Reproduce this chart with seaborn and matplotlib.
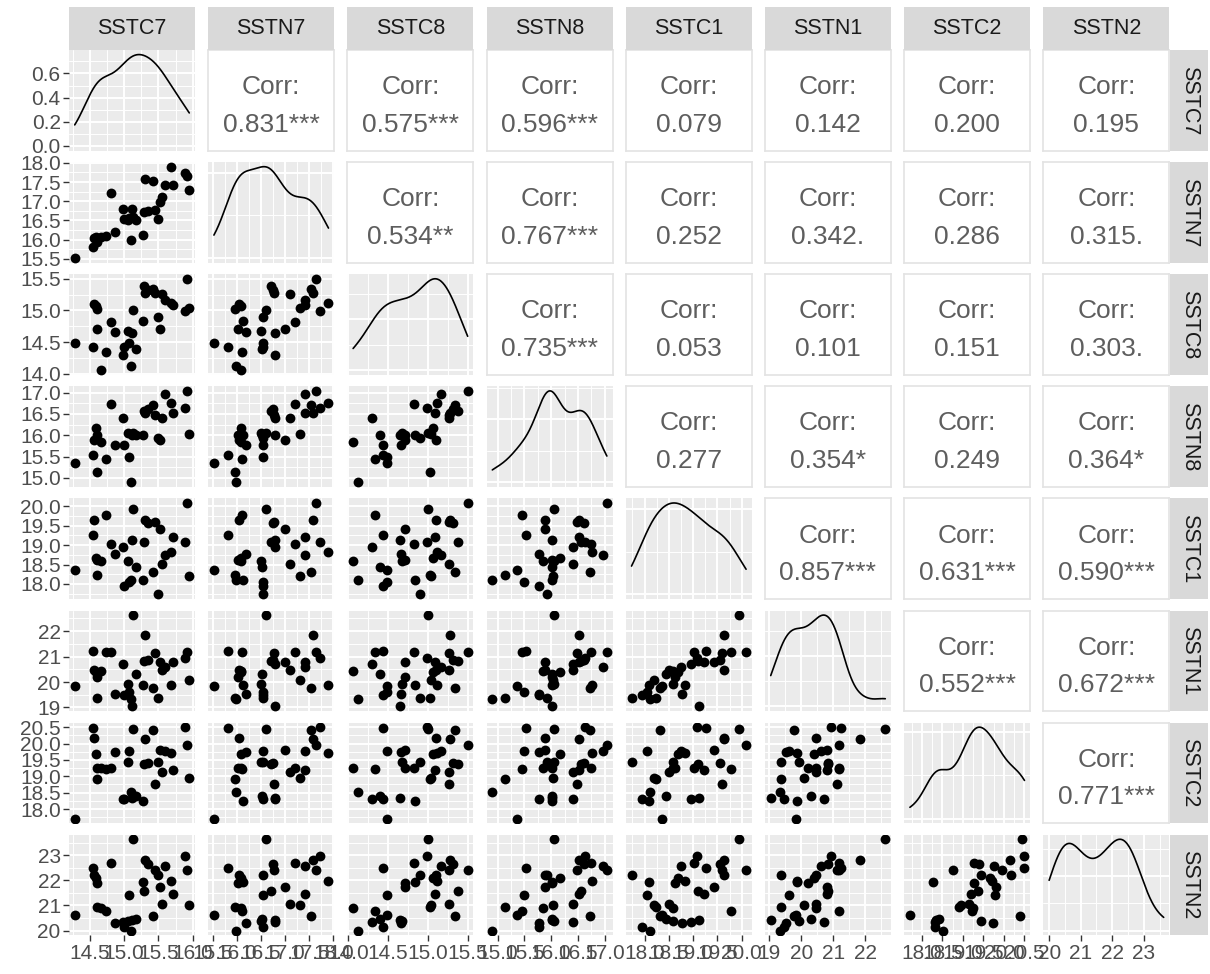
import numpy as np
import pandas as pd
import matplotlib
matplotlib.use("Agg")
import matplotlib.pyplot as plt
import seaborn as sns
from matplotlib.ticker import FixedLocator, AutoLocator, AutoMinorLocator

# ---- data: sea-surface temperature series ----
variables = ["SSTC7", "SSTN7", "SSTC8", "SSTN8", "SSTC1", "SSTN1", "SSTC2", "SSTN2"]

SSTC7 = [14.28, 14.55, 14.56, 14.59, 14.60, 14.61, 14.66, 14.74, 14.81, 14.87, 14.98,
         15.00, 15.05, 15.10, 15.12, 15.18, 15.07, 15.13, 15.28, 15.29, 15.31, 15.35,
         15.42, 15.45, 15.50, 15.52, 15.55, 15.60, 15.69, 15.72, 15.89, 15.92, 15.95]
SSTN7 = [15.52, 15.81, 16.05, 16.08, 16.01, 15.95, 16.08, 16.10, 17.21, 16.19, 16.79,
         16.54, 16.50, 15.98, 16.79, 16.52, 16.55, 16.60, 16.13, 16.71, 17.57, 16.75,
         17.53, 16.77, 16.54, 16.99, 17.10, 17.42, 17.90, 17.42, 17.73, 17.65, 17.30]
SSTC8 = [14.49, 14.43, 15.10, 15.07, 14.71, 15.03, 14.06, 14.34, 14.82, 14.66, 14.30,
         14.43, 14.68, 14.12, 14.65, 14.40, 14.49, 15.00, 14.84, 15.38, 15.28, 15.32,
         15.34, 15.27, 14.90, 14.71, 15.26, 15.16, 15.12, 15.09, 14.99, 15.50, 15.04]
SSTN8 = [15.36, 15.53, 15.89, 16.17, 16.01, 15.13, 15.85, 15.45, 16.74, 15.77, 16.40,
         15.77, 16.05, 14.90, 16.01, 16.01, 15.49, 16.05, 16.01, 16.56, 16.52, 16.62,
         16.72, 16.48, 15.93, 15.89, 16.40, 16.96, 16.76, 16.52, 16.64, 17.04, 16.03]
SSTC1 = [18.36, 19.27, 19.64, 18.68, 18.62, 18.24, 18.58, 19.78, 19.02, 18.76, 18.95,
         17.94, 18.58, 18.11, 19.13, 18.44, 18.04, 19.94, 18.09, 19.09, 19.64, 19.56,
         18.31, 19.60, 17.73, 19.42, 18.51, 18.74, 18.83, 19.22, 19.07, 20.09, 18.20]
SSTN1 = [19.84, 21.23, 20.47, 20.40, 20.20, 19.37, 20.45, 21.17, 21.17, 19.53, 20.71,
         19.47, 19.93, 19.33, 19.04, 20.31, 19.60, 22.63, 19.87, 20.83, 21.84, 20.85,
         19.76, 21.13, 19.37, 20.80, 20.47, 20.60, 19.87, 20.80, 20.93, 21.17, 20.07]
SSTC2 = [17.71, 20.48, 20.17, 19.67, 19.26, 18.91, 19.24, 19.22, 19.26, 19.74, 18.31,
         18.31, 19.45, 18.52, 18.35, 18.41, 19.78, 20.43, 18.26, 19.36, 20.15, 19.40,
         20.40, 18.77, 19.45, 19.81, 19.14, 19.76, 19.70, 19.19, 20.50, 19.96, 18.95]
SSTN2 = [20.64, 22.49, 22.22, 22.08, 21.88, 20.95, 20.88, 20.78, 22.67, 20.30, 20.33,
         20.16, 20.37, 20.00, 20.44, 20.47, 21.42, 23.63, 21.95, 21.58, 22.79, 22.63,
         20.58, 22.42, 22.22, 21.74, 21.05, 22.56, 21.99, 21.47, 22.95, 22.42, 21.03]

# Pearson correlations and significance marks, upper triangle, row by row
corr_values = [0.831, 0.575, 0.596, 0.079, 0.142, 0.200, 0.195,
               0.534, 0.767, 0.252, 0.342, 0.286, 0.315,
               0.735, 0.053, 0.101, 0.151, 0.303,
               0.277, 0.354, 0.249, 0.364,
               0.857, 0.631, 0.590,
               0.552, 0.672,
               0.771]
corr_marks = ["***", "***", "***", "", "", "", "",
              "**", "***", "", ".", "", ".",
              "***", "", "", "", ".",
              "", "*", "", "*",
              "***", "***", "***",
              "***", "***",
              "***"]

# axis tick labels per variable
tick_labels = {
    "SSTC7": ["14.5", "15.0", "15.5", "16.0"],
    "SSTN7": ["15.5", "16.0", "16.5", "17.0", "17.5", "18.0"],
    "SSTC8": ["14.0", "14.5", "15.0", "15.5"],
    "SSTN8": ["15.0", "15.5", "16.0", "16.5", "17.0"],
    "SSTC1": ["18.0", "18.5", "19.0", "19.5", "20.0"],
    "SSTN1": ["19", "20", "21", "22"],
    "SSTC2": ["18.0", "18.5", "19.0", "19.5", "20.0", "20.5"],
    "SSTN2": ["20", "21", "22", "23"],
}
density_tick_labels = ["0.0", "0.2", "0.4", "0.6"]

df = pd.DataFrame({"SSTC7": SSTC7, "SSTN7": SSTN7, "SSTC8": SSTC8, "SSTN8": SSTN8,
                   "SSTC1": SSTC1, "SSTN1": SSTN1, "SSTC2": SSTC2, "SSTN2": SSTN2})

# ---- style ----
sns.set_style("darkgrid")
plt.rcParams["font.family"] = ["Liberation Sans", "DejaVu Sans"]

W, H = 1210, 974
BG = "#EBEBEB"
TICK_TXT = "#4D4D4D"
TICK_COL = "#333333"
STRIP_BG = "#D9D9D9"
STRIP_TXT = "#1A1A1A"
CORR_TXT = "#5E5E5E"

fig = plt.figure(figsize=(W / 100, H / 100), dpi=100)
fig.patch.set_facecolor("white")


def rect(x0, y0, w, h):
    return [x0 / W, 1 - (y0 + h) / H, w / W, h / H]


X0, XP, PW = 69, 139.2, 126
Y0, YP, PH = 50, 112.1, 100.5
n = len(variables)


def limits(v):
    lo, hi = df[v].min(), df[v].max()
    pad = 0.05 * (hi - lo)
    return lo - pad, hi + pad


def grid_ticks(labels):
    major = [float(t) for t in labels]
    step = major[1] - major[0]
    minor = [major[0] - step / 2] + [m + step / 2 for m in major]
    return major, minor


def nrd0_factor(x):
    # R-style default bandwidth expressed as a factor of the sample sd
    x = np.asarray(x)
    sd = np.std(x, ddof=1)
    q75, q25 = np.percentile(x, [75, 25])
    lo = min(sd, (q75 - q25) / 1.34)
    bw = 0.9 * lo * len(x) ** -0.2
    return bw / sd


def style_grid(ax):
    ax.set_facecolor(BG)
    for s in ax.spines.values():
        s.set_visible(False)
    ax.grid(which="major", color="white", linewidth=1.4)
    ax.grid(which="minor", color="white", linewidth=0.7)
    ax.set_axisbelow(True)


k = 0
for i, yv in enumerate(variables):
    for j, xv in enumerate(variables):
        ax = fig.add_axes(rect(X0 + j * XP, Y0 + i * YP, PW, PH))
        xmaj, xmin = grid_ticks(tick_labels[xv])
        if j > i:
            # correlation text panel
            ax.set_facecolor("white")
            ax.grid(False)
            for s in ax.spines.values():
                s.set_visible(True)
                s.set_color("#E3E3E3")
                s.set_linewidth(1.2)
            ax.set_xticks([])
            ax.set_yticks([])
            ax.text(0.5, 0.63, "Corr:", ha="center", va="center", fontsize=19,
                    color=CORR_TXT, transform=ax.transAxes)
            ax.text(0.5, 0.255, f"{corr_values[k]:.3f}{corr_marks[k]}", ha="center",
                    va="center", fontsize=19, color=CORR_TXT, transform=ax.transAxes)
            k += 1
            continue

        style_grid(ax)
        if i == j:
            sns.kdeplot(x=df[xv], ax=ax, bw_method=nrd0_factor(df[xv]), cut=0,
                        color="black", linewidth=1.2)
            ymax = ax.lines[-1].get_ydata().max()
            ax.set_ylim(-0.05 * ymax, 1.05 * ymax)
            if i == 0:
                dmaj, dmin = grid_ticks(density_tick_labels)
                ax.yaxis.set_major_locator(FixedLocator(dmaj))
                ax.yaxis.set_minor_locator(FixedLocator(dmin))
            else:
                ax.yaxis.set_major_locator(AutoLocator())
                ax.yaxis.set_minor_locator(AutoMinorLocator(2))
        else:
            sns.scatterplot(x=df[xv], y=df[yv], ax=ax, color="black", s=50,
                            linewidth=0, legend=False)
            ymaj, ymin_ = grid_ticks(tick_labels[yv])
            ax.yaxis.set_major_locator(FixedLocator(ymaj))
            ax.yaxis.set_minor_locator(FixedLocator(ymin_))
            ax.set_ylim(*limits(yv))
        ax.xaxis.set_major_locator(FixedLocator(xmaj))
        ax.xaxis.set_minor_locator(FixedLocator(xmin))
        ax.set_xlim(*limits(xv))
        ax.set_xlabel("")
        ax.set_ylabel("")

        ax.tick_params(which="minor", length=0)
        ax.tick_params(which="major", length=4, width=1.0, color=TICK_COL,
                       labelsize=15, labelcolor=TICK_TXT, pad=2)
        show_x = (i == n - 1)
        show_y = (j == 0)
        ax.tick_params(axis="x", bottom=show_x, labelbottom=show_x)
        ax.tick_params(axis="y", left=show_y, labelleft=show_y)
        if show_x:
            ax.set_xticklabels(tick_labels[xv])
        if show_y:
            if i == 0:
                ax.set_yticklabels(density_tick_labels)
            else:
                ax.set_yticklabels(tick_labels[yv])

# column strips along the top
for j, v in enumerate(variables):
    sax = fig.add_axes(rect(X0 + j * XP, 7, PW, 43))
    sax.set_facecolor(STRIP_BG)
    sax.set_xticks([])
    sax.set_yticks([])
    for s in sax.spines.values():
        s.set_visible(False)
    sax.text(0.5, 0.5, v, ha="center", va="center", fontsize=15.5, color=STRIP_TXT,
             transform=sax.transAxes)

# row strips along the right
for i, v in enumerate(variables):
    sax = fig.add_axes(rect(X0 + (n - 1) * XP + PW + 1, Y0 + i * YP, 38, PH))
    sax.set_facecolor(STRIP_BG)
    sax.set_xticks([])
    sax.set_yticks([])
    for s in sax.spines.values():
        s.set_visible(False)
    sax.text(0.5, 0.5, v, ha="center", va="center", fontsize=15.5, color=STRIP_TXT,
             rotation=-90, transform=sax.transAxes)

fig.savefig("out.png", dpi=100, facecolor="white")
